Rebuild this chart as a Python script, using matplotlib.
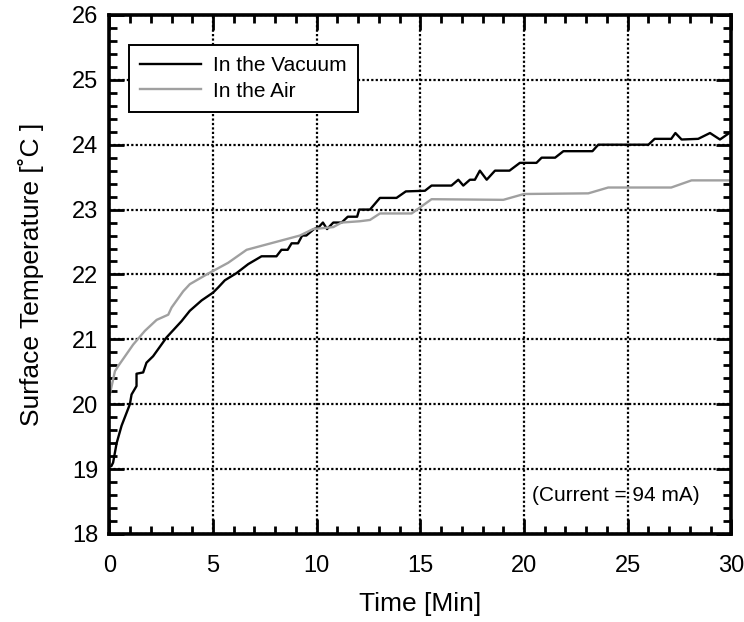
import matplotlib
matplotlib.use("Agg")
import matplotlib.pyplot as plt
from matplotlib.ticker import MultipleLocator

plt.rcParams['font.family'] = ['Liberation Sans', 'DejaVu Sans']

# vacuum curve (black)
vac_t = [0.1, 0.18, 0.35, 0.59, 0.99, 1.07, 1.31, 1.31, 1.63, 1.79, 2.11, 2.76, 3.48, 3.88,
         4.45, 5.0, 5.25, 5.57, 6.13, 6.7, 7.34, 8.06, 8.3, 8.6, 8.79, 9.1, 9.3, 9.5, 9.87,
         10.07, 10.3, 10.5, 10.8, 11.2, 11.5, 11.95, 12.05, 12.57, 13.05, 13.85, 14.3, 15.22,
         15.54, 16.5, 16.83, 17.07, 17.39, 17.63, 17.87, 18.2, 18.6, 19.3, 19.8, 20.6, 20.85,
         21.5, 21.9, 23.3, 23.58, 26.0, 26.3, 27.1, 27.3, 27.6, 28.4, 28.97, 29.45, 29.9]
vac_temp = [19.05, 19.1, 19.4, 19.67, 20.0, 20.15, 20.28, 20.47, 20.49, 20.64, 20.74, 21.03,
            21.28, 21.44, 21.6, 21.72, 21.8, 21.91, 22.02, 22.16, 22.28, 22.28, 22.38, 22.38,
            22.48, 22.48, 22.6, 22.6, 22.7, 22.72, 22.8, 22.7, 22.8, 22.8, 22.89, 22.89, 23.0,
            23.0, 23.18, 23.18, 23.28, 23.29, 23.37, 23.37, 23.46, 23.37, 23.46, 23.46, 23.6,
            23.46, 23.6, 23.6, 23.72, 23.72, 23.8, 23.8, 23.9, 23.9, 24.0, 24.0, 24.09, 24.09,
            24.18, 24.08, 24.09, 24.18, 24.08, 24.18]

# air curve (grey)
air_t = [0.02, 0.27, 0.43, 1.15, 1.71, 2.28, 2.84, 3.0, 3.56, 3.88, 4.69, 5.73, 6.62, 9.19,
         9.83, 10.8, 11.2, 12.08, 12.57, 13.05, 14.58, 15.06, 15.54, 19.0, 20.0, 23.1, 24.06,
         27.1, 28.08, 30.0]
air_temp = [20.15, 20.51, 20.59, 20.92, 21.13, 21.3, 21.38, 21.49, 21.74, 21.85, 22.0, 22.18,
            22.38, 22.6, 22.7, 22.73, 22.8, 22.82, 22.84, 22.94, 22.94, 23.05, 23.16, 23.15,
            23.24, 23.25, 23.34, 23.34, 23.45, 23.45]

fig = plt.figure(figsize=(7.44, 6.22), dpi=100)
ax = fig.add_axes([0.147, 0.1415, 0.836, 0.8345])

ax.plot(vac_t, vac_temp, color='black', lw=1.7, label='In the Vacuum')
ax.plot(air_t, air_temp, color='#a0a0a0', lw=1.7, label='In the Air')

ax.set_xlim(0, 30)
ax.set_ylim(18, 26)
ax.xaxis.set_major_locator(MultipleLocator(5))
ax.xaxis.set_minor_locator(MultipleLocator(1))
ax.yaxis.set_major_locator(MultipleLocator(1))
ax.yaxis.set_minor_locator(MultipleLocator(0.2))
ax.tick_params(which='both', direction='in', top=True, right=True, labelsize=17)
ax.tick_params(which='major', length=11, width=2)
ax.tick_params(which='minor', length=6, width=2)
ax.tick_params(axis='x', pad=15)
ax.tick_params(axis='y', pad=8)
for s in ax.spines.values():
    s.set_linewidth(2.6)

ax.grid(True, which='major', color='black', linestyle=(0, (1, 1)), linewidth=1.6)

ax.set_xlabel('Time [Min]', fontsize=19, labelpad=11)
ax.set_ylabel('Surface Temperature [˚C ]', fontsize=19, labelpad=20)

leg = ax.legend(loc='upper left', bbox_to_anchor=(0.031, 0.942), borderaxespad=0,
                fontsize=15, fancybox=False, framealpha=1, edgecolor='black',
                handlelength=2.9, handletextpad=0.6, borderpad=0.55, labelspacing=0.3)
leg.get_frame().set_linewidth(1.4)

ax.text(0.815, 0.075, '(Current = 94 mA)', transform=ax.transAxes, fontsize=15,
        ha='center', va='center')

fig.savefig('out.png', dpi=100)
